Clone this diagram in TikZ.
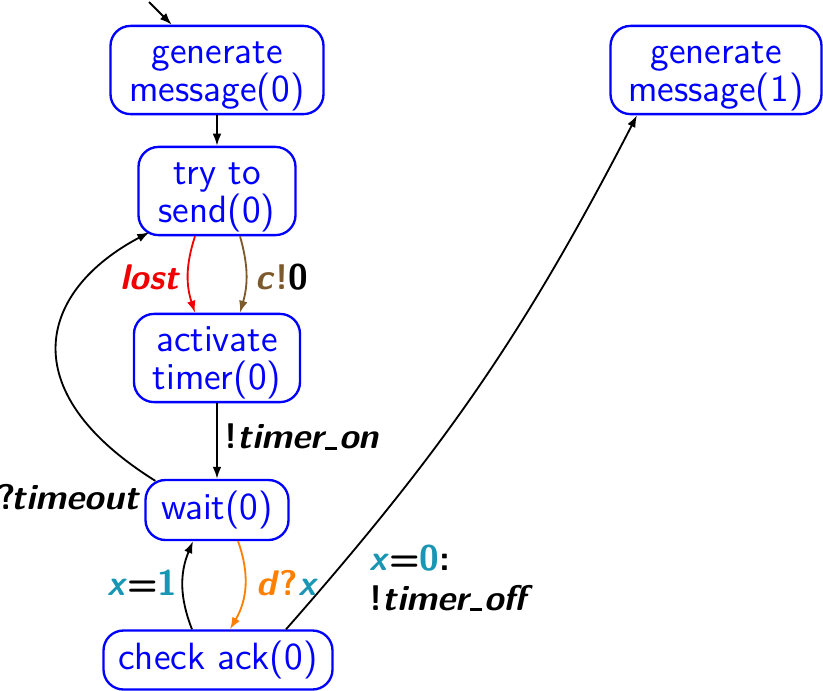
\documentclass[tikz,border=0pt]{standalone}
\usetikzlibrary{arrows.meta}
\definecolor{stateblue}{RGB}{0,0,255}
\definecolor{lostred}{RGB}{240,0,0}
\definecolor{chanbrown}{RGB}{125,90,45}
\definecolor{valteal}{RGB}{25,150,180}
\definecolor{recvorange}{RGB}{255,128,0}
\newcommand\lit[1]{\textit{#1}}
% short underscore sitting on the baseline
\newcommand\usc{\kern0.5pt\rule[-0.3pt]{3.6pt}{0.9pt}\kern0.5pt}
\begin{document}
\begin{tikzpicture}[x=0.3pt,y=-0.3pt,
  state/.style={draw=stateblue,text=stateblue,line width=0.7pt,rounded corners=6pt,
    align=center,inner sep=1pt,font=\sffamily\fontsize{11.4}{11.4}\selectfont},
  twoline/.style={text height=21.6pt},
  sz/.style 2 args={minimum width=#1*0.3pt,minimum height=#2*0.3pt},
  lbl/.style={inner sep=0pt,align=left,font=\sffamily\bfseries\fontsize{10.7}{12}\selectfont},
  arr/.style={line width=0.55pt,-{Latex[length=3.6pt,width=2.6pt]}}]
\useasboundingbox (0,0) rectangle (823,690);

% states
\node[state,twoline,sz={213}{83}] (gen0) at (217,70) {generate\\message(0)};
\node[state,twoline,sz={157}{82}] (try) at (217,191) {try to\\send(0)};
\node[state,twoline,sz={166}{82}] (act) at (217,358) {activate\\timer(0)};
\node[state,sz={143}{60}] (wait) at (217,510) {wait(0)};
\node[state,sz={229}{59}] (check) at (218,660) {check ack(0)};
\node[state,twoline,sz={211}{83}] (gen1) at (716,70) {generate\\message(1)};

% initial arrow
\coordinate (init) at (149,2);
\draw[arr] (init) -- (gen0.135);

% transitions
\draw[arr] (gen0) -- (try);
\draw[arr,lostred] ([xshift=-6.6pt]try.south) to[bend right=18] ([xshift=-6.6pt]act.north);
\draw[arr,chanbrown] ([xshift=6.9pt]try.south) to[bend left=16] ([xshift=6.9pt]act.north);
\draw[arr] (act) -- (wait);
\draw[arr] ([xshift=3.3pt,yshift=-0.6pt]wait.north west) .. controls (10,390) and (40,290) .. ([xshift=3.6pt,yshift=1.2pt]try.south west);
\draw[arr,recvorange] ([xshift=6.3pt]wait.south) to[bend left=25] ([xshift=3.6pt]check.north);
\draw[arr] ([xshift=-7.8pt]check.north) to[bend left=22] ([xshift=-7.2pt]wait.south);
\draw[arr] ([xshift=20.4pt]check.north) to[bend right=7] ([xshift=-23.7pt]gen1.south);

% labels
\node[lbl,text=lostred,anchor=east] (llost) at (181,277) {\lit{lost}};
\node[lbl,anchor=west] (lsend) at (255,277) {\textcolor{chanbrown}{\lit{c}!}0};
\node[lbl,anchor=west] (lon) at (224,437) {!\lit{timer\usc on}};
\node[lbl,anchor=east] (ltimeout) at (141,497) {?\kern-1.2pt\lit{timeout}};
\node[lbl,anchor=east] (lone) at (178,583) {\textcolor{valteal}{\lit{x}}=\textcolor{valteal}{1}};
\node[lbl,anchor=west] (lrecv) at (256,583) {\textcolor{recvorange}{\lit{d}?}\textcolor{valteal}{\lit{x}}};
\node[lbl,anchor=west] (loff) at (369,578) {\textcolor{valteal}{\lit{x}}=\textcolor{valteal}{0}:\\!\lit{timer\usc off}};
\end{tikzpicture}
\end{document}
